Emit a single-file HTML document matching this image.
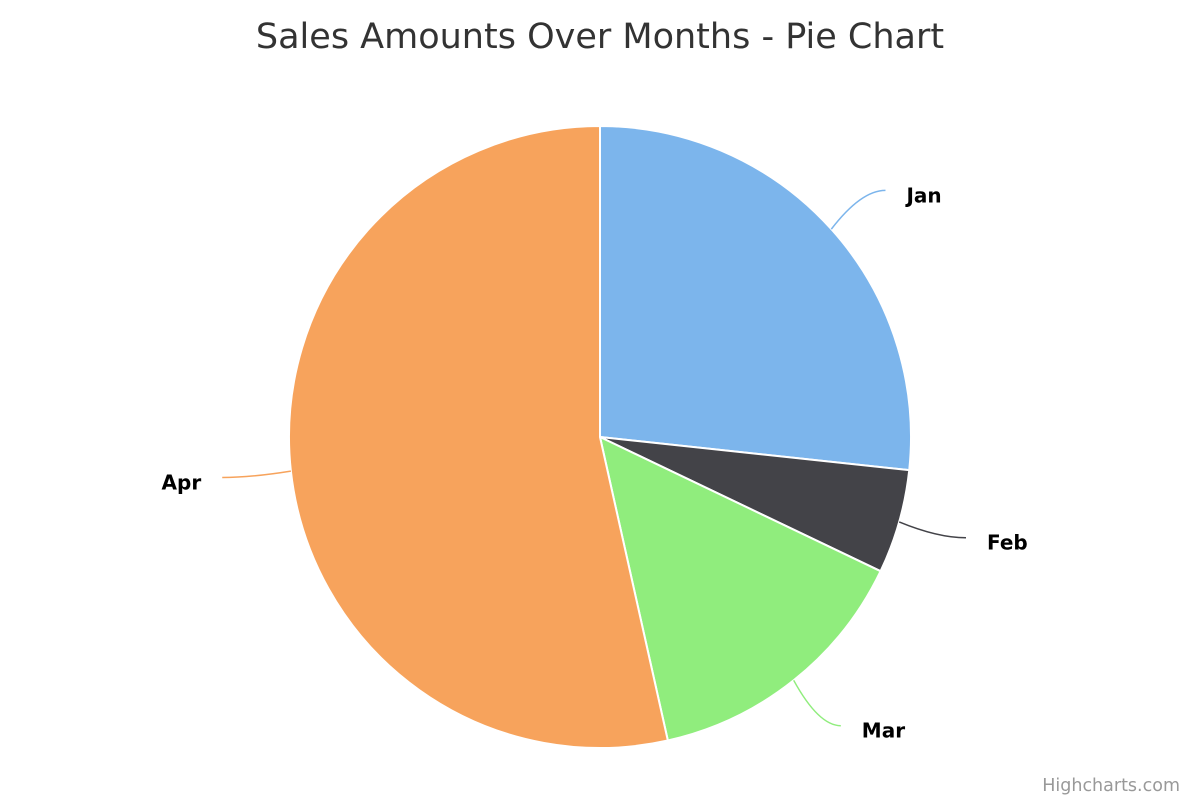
<!DOCTYPE html>
<html><head><meta charset="utf-8"><style>
html,body{margin:0;padding:0;background:#fff;}
svg{display:block;}
</style></head><body>
<svg id="chart" width="1200" height="800">
<text x="600" y="48" text-anchor="middle" font-family="DejaVu Sans, Liberation Sans, sans-serif" font-size="35" fill="#333">Sales Amounts Over Months - Pie Chart</text>
<g id="slices"></g>
<g id="labels"></g>
<text x="1180" y="791" text-anchor="end" font-family="DejaVu Sans, Liberation Sans, sans-serif" font-size="17.5" fill="#999">Highcharts.com</text>
</svg>
<script>
const categories = ['Jan','Feb','Mar','Apr'];
const values = [267, 54, 144, 535];
const colors = ['#7cb5ec','#434348','#90ed7d','#f7a35c'];
const NS='http://www.w3.org/2000/svg';
const cx=600, cy=437, r=311, rd=369;
const total=values.reduce((a,b)=>a+b,0);
const sg=document.getElementById('slices'), lg=document.getElementById('labels');
function pt(a,rad){return [cx+rad*Math.sin(a), cy-rad*Math.cos(a)];}
let start=0;
values.forEach((v,i)=>{
  const ang=v/total*2*Math.PI, end=start+ang;
  const p0=pt(start,r), p1=pt(end,r);
  const path=document.createElementNS(NS,'path');
  path.setAttribute('d',`M${cx},${cy}L${p0[0]},${p0[1]}A${r},${r} 0 ${ang>Math.PI?1:0} 1 ${p1[0]},${p1[1]}Z`);
  path.setAttribute('fill',colors[i]);
  path.setAttribute('stroke','#fff');
  path.setAttribute('stroke-width','2');
  path.setAttribute('stroke-linejoin','round');
  
  
  sg.appendChild(path);
  const mid=(start+end)/2;
  const s=Math.sin(mid)>=0?1:-1;
  const e=pt(mid,r);
  const ly=cy-rd*Math.cos(mid);
  const lx=cx+rd*Math.sin(mid)+s*11;
  const c=pt(mid,r+40);
  const line=document.createElementNS(NS,'path');
  line.setAttribute('d',`M${e[0]},${e[1]}Q${c[0]},${ly} ${lx},${ly}`);
  line.setAttribute('fill','none');
  line.setAttribute('stroke',colors[i]);
  line.setAttribute('stroke-width','1.5');
  
  
  lg.appendChild(line);
  const t=document.createElementNS(NS,'text');
  t.setAttribute('x',lx+s*21);
  t.setAttribute('y',ly+12);
  t.setAttribute('text-anchor',s>0?'start':'end');
  t.setAttribute('font-family','DejaVu Sans, Liberation Sans, sans-serif');
  t.setAttribute('font-size','20');
  t.setAttribute('font-weight','bold');
  t.setAttribute('fill','#000');
  
  
  t.textContent=categories[i];
  lg.appendChild(t);
  start=end;
});
</script>
</body></html>
